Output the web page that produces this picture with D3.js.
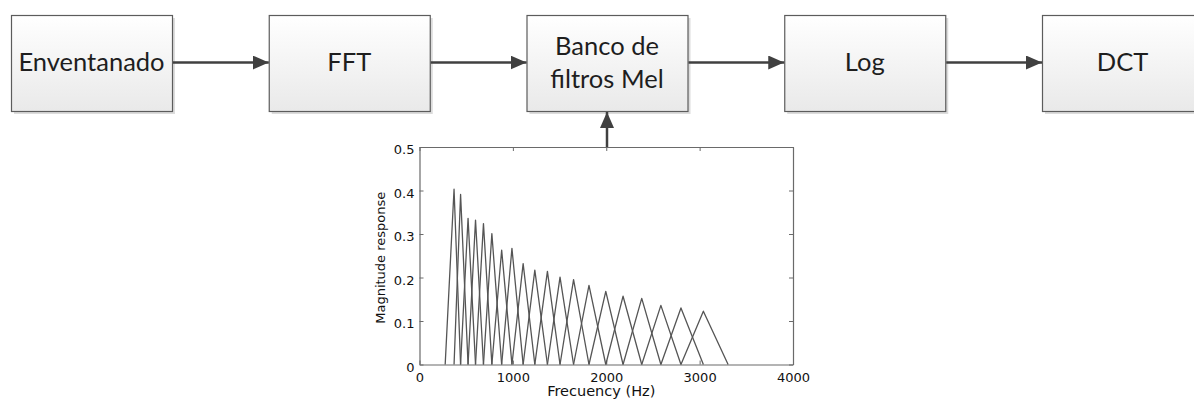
<!DOCTYPE html>
<html>
<head>
<meta charset="utf-8">
<script src="https://cdn.jsdelivr.net/npm/d3@7"></script>
<style>
  html, body { margin: 0; padding: 0; background: #fff; }
  svg { display: block; }
</style>
</head>
<body>
<svg id="chart" width="1194" height="399"></svg>
<script>
// ---- Data ----
const stages = [["Enventanado"], ["FFT"], ["Banco de", "filtros Mel"], ["Log"], ["DCT"]];
// filter-bank edge frequencies (Hz): first lower edge, 20 centre frequencies, last upper edge
const filterEdges = [275, 370, 440, 520, 600, 685, 775, 880, 990, 1110, 1235, 1370, 1505, 1650, 1815, 1995, 2180, 2380, 2585, 2800, 3040, 3305];
// peak magnitude of each of the 20 triangular filters
const filterPeaks = [0.403, 0.391, 0.336, 0.332, 0.324, 0.301, 0.263, 0.267, 0.232, 0.217, 0.214, 0.201, 0.195, 0.182, 0.168, 0.157, 0.152, 0.136, 0.130, 0.1225];
const xTicks = [0, 1000, 2000, 3000, 4000];
const yTicks = [0, 0.1, 0.2, 0.3, 0.4, 0.5];
const xTitle = "Frecuency (Hz)";
const yTitle = "Magnitude response";

const svg = d3.select("#chart");
const defs = svg.append("defs");

// gradient for boxes
const grad = defs.append("linearGradient").attr("id", "boxGrad")
  .attr("x1", 0).attr("y1", 0).attr("x2", 0).attr("y2", 1);
grad.append("stop").attr("offset", "0%").attr("stop-color", "#ffffff");
grad.append("stop").attr("offset", "100%").attr("stop-color", "#e9e9e9");

// arrow marker
defs.append("marker").attr("id", "arrow")
  .attr("markerUnits", "userSpaceOnUse")
  .attr("viewBox", "0 0 16 14").attr("refX", 16).attr("refY", 7)
  .attr("markerWidth", 16).attr("markerHeight", 14)
  .attr("orient", "auto")
  .append("path").attr("d", "M0,0 L16,7 L0,14 Z").attr("fill", "#404040");

// ---- Flow diagram ----
const boxW = 161, boxTop = 15, boxH = 96;
const boxX = d3.scaleLinear().domain([0, stages.length - 1]).range([11, 1042]);
const arrowY = 62.5;

const boxes = svg.append("g").selectAll("g").data(stages).join("g")
  .attr("transform", (d, i) => `translate(${boxX(i)},${boxTop})`);
boxes.append("rect").attr("x", 3).attr("y", 3).attr("width", boxW).attr("height", boxH)
  .attr("fill", "#dcdcdc");
boxes.append("rect").attr("x", 0.5).attr("y", 0.5).attr("width", boxW).attr("height", boxH)
  .attr("fill", "url(#boxGrad)").attr("stroke", "#5c5c5c").attr("stroke-width", 1.2);
boxes.each(function(d) {
  const g = d3.select(this);
  const lineH = 33;
  const base = 55 - boxTop + (d.length === 1 ? 15.5 : 0);
  d.forEach((t, j) => {
    g.append("text").attr("x", boxW / 2).attr("y", base + j * lineH)
      .attr("text-anchor", "middle")
      .attr("font-family", "Lato, 'Open Sans', sans-serif")
      .attr("font-size", 25.5)
      .attr("fill", "#1e1e1e")
      .text(t);
  });
});

// horizontal arrows
svg.append("g").selectAll("line").data(d3.range(stages.length - 1)).join("line")
  .attr("x1", i => boxX(i) + boxW + 1).attr("x2", i => boxX(i + 1))
  .attr("y1", arrowY).attr("y2", arrowY)
  .attr("stroke", "#404040").attr("stroke-width", 2.5)
  .attr("marker-end", "url(#arrow)");

// ---- Filter-bank plot ----
const plot = { left: 419.5, right: 793, top: 147, bottom: 364.5 };
const x = d3.scaleLinear().domain([0, 4000]).range([plot.left, plot.right]);
const y = d3.scaleLinear().domain([0, 0.5]).range([plot.bottom, plot.top]);

// vertical arrow from plot up to the Mel box
const melCx = boxX(2) + boxW / 2;
svg.append("line")
  .attr("x1", melCx).attr("x2", melCx)
  .attr("y1", plot.top).attr("y2", boxTop + boxH + 1)
  .attr("stroke", "#404040").attr("stroke-width", 2.5)
  .attr("marker-end", "url(#arrow)");

const axisColor = "#6a6a6a";
const tickFont = "'DejaVu Sans', Verdana, sans-serif";

const gx = svg.append("g").attr("transform", `translate(0,${plot.bottom})`)
  .call(d3.axisBottom(x).tickValues(xTicks).tickFormat(d3.format("d")).tickSizeInner(-4).tickSizeOuter(0).tickPadding(8));
const gxTop = svg.append("g").attr("transform", `translate(0,${plot.top})`)
  .call(d3.axisTop(x).tickValues(xTicks).tickFormat("").tickSizeInner(-4).tickSizeOuter(0));
const gy = svg.append("g").attr("transform", `translate(${plot.left},0)`)
  .call(d3.axisLeft(y).tickValues(yTicks).tickFormat(d => d === 0 ? "0" : d3.format(".1f")(d)).tickSizeInner(-4).tickSizeOuter(0).tickPadding(5));
const gyR = svg.append("g").attr("transform", `translate(${plot.right},0)`)
  .call(d3.axisRight(y).tickValues(yTicks).tickFormat("").tickSizeInner(-4).tickSizeOuter(0));

[gx, gxTop, gy, gyR].forEach(g => {
  g.selectAll(".domain").attr("stroke", axisColor).attr("stroke-width", 1.2);
  g.selectAll(".tick line").attr("stroke", axisColor).attr("stroke-width", 1);
  g.selectAll(".tick text").attr("font-family", tickFont).attr("font-size", 13).attr("fill", "#111");
});
gy.selectAll(".tick text").attr("dy", "0.5em");

// filters
const line = d3.line().x(d => x(d[0])).y(d => y(d[1]));
const filters = filterPeaks.map((p, i) => [
  [filterEdges[i], 0], [filterEdges[i + 1], p], [filterEdges[i + 2], 0]
]);
svg.append("g").selectAll("path").data(filters).join("path")
  .attr("d", line)
  .attr("fill", "none").attr("stroke", "#555").attr("stroke-width", 1.3)
  .attr("stroke-linejoin", "round");

// axis titles
svg.append("text").attr("x", (plot.left + plot.right) / 2 - 5).attr("y", 396)
  .attr("text-anchor", "middle").attr("font-family", tickFont).attr("font-size", 14.5)
  .attr("fill", "#111").text(xTitle);
svg.append("text")
  .attr("transform", `translate(385,${(plot.top + plot.bottom) / 2 + 2}) rotate(-90)`)
  .attr("text-anchor", "middle").attr("font-family", tickFont).attr("font-size", 13)
  .attr("fill", "#111").text(yTitle);
</script>
</body>
</html>
